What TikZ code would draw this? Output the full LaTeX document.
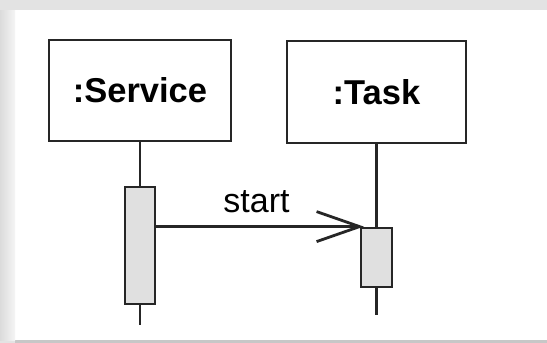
\documentclass[tikz,border=0pt]{standalone}
\usepackage{fontspec}
\setmainfont{Liberation Sans}
\usetikzlibrary{calc}
\begin{document}
\begin{tikzpicture}[x=1pt,y=-1pt,
  lifebox/.style={draw=black!85,line width=2.8pt,fill=white,inner sep=0pt},
  actbox/.style={draw=black!85,line width=2.8pt,fill=black!12,inner sep=0pt},
  lifeline/.style={draw=black!85,line width=2.8pt},
  msg/.style={draw=black!85,line width=2.8pt}]
  % page background and white panel
  \useasboundingbox (0,0) rectangle (547,343);
  \fill[black!11] (0,0) rectangle (547,343);
  \fill[black!22] (15,12) rectangle (547,343);
  \fill[white] (15,10) rectangle (547,340);
  \shade[left color=black!14,right color=black!4] (0,10) rectangle (15,340);
  % object boxes
  \node[lifebox,minimum width=182pt,minimum height=101pt] (svc) at (140,90.5) {};
  \node[font=\bfseries\fontsize{34.5}{38}\selectfont] at (svc.center) {:Service};
  \node[lifebox,minimum width=179pt,minimum height=102pt] (tsk) at (376.5,92) {};
  \node[font=\bfseries\fontsize{34.5}{38}\selectfont] at (tsk.center) {:Task};
  % activation bars
  \node[actbox,minimum width=30pt,minimum height=117pt] (sact) at (140,245.5) {};
  \node[actbox,minimum width=31pt,minimum height=59pt] (tact) at (376.5,257.5) {};
  \coordinate (send) at (140,325);
  \coordinate (tend) at (376.5,315);
  % lifelines
  \draw[lifeline] (svc.south) -- (sact.north);
  \draw[lifeline] (sact.south) -- (send);
  \draw[lifeline] (tsk.south) -- (tact.north);
  \draw[lifeline] (tact.south) -- (tend);
  % message with open arrowhead
  \coordinate (m0) at (sact.east |- tact.north);
  \coordinate (m1) at (tact.north west);
  \draw[msg] (m0) -- (m1);
  \draw[msg,line join=miter] ($(m1)+(-43,-15)$) -- (m1) -- ($(m1)+(-43,15)$);
  \node[font=\fontsize{34}{38}\selectfont,anchor=base] (lbl) at (256.5,212) {start};
\end{tikzpicture}
\end{document}
